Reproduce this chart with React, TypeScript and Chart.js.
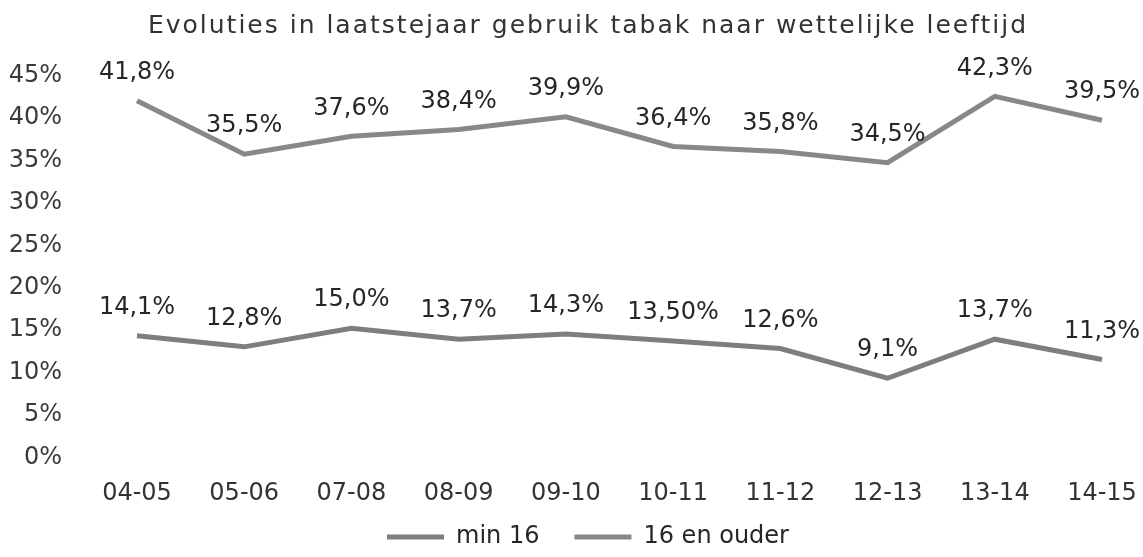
import React, { useEffect, useRef } from "react";
import { Chart, registerables } from "chart.js";

Chart.register(...registerables);

const categories = ["04-05", "05-06", "07-08", "08-09", "09-10", "10-11", "11-12", "12-13", "13-14", "14-15"];
const min16Values = [14.1, 12.8, 15.0, 13.7, 14.3, 13.5, 12.6, 9.1, 13.7, 11.3];
const min16Labels = ["14,1%", "12,8%", "15,0%", "13,7%", "14,3%", "13,50%", "12,6%", "9,1%", "13,7%", "11,3%"];
const olderValues = [41.8, 35.5, 37.6, 38.4, 39.9, 36.4, 35.8, 34.5, 42.3, 39.5];
const olderLabels = ["41,8%", "35,5%", "37,6%", "38,4%", "39,9%", "36,4%", "35,8%", "34,5%", "42,3%", "39,5%"];
const seriesNames = ["min 16", "16 en ouder"];
const titleText = "Evoluties in laatstejaar gebruik tabak naar wettelijke leeftijd";

const FONT = '"DejaVu Sans", Verdana, sans-serif';
const PAD_L = 8;
const PAD_R = 41;
const PAD_T = 73.5;
const BOTTOM_SPACE = 101.5;
const CENTER_X = 588;
const LEGEND_FONT = 24;
const LEGEND_PAD = 35;

const valueLabelPlugin = {
  id: "valueLabels",
  afterDatasetsDraw(chart: any) {
    const ctx = chart.ctx;
    const texts = [min16Labels, olderLabels];
    ctx.save();
    ctx.font = `24px ${FONT}`;
    ctx.fillStyle = "#262626";
    ctx.textAlign = "center";
    ctx.textBaseline = "middle";
    chart.data.datasets.forEach((_ds: any, di: number) => {
      const meta = chart.getDatasetMeta(di);
      meta.data.forEach((pt: any, i: number) => {
        ctx.fillText(texts[di][i], pt.x, pt.y - 28);
      });
    });
    ctx.restore();
  },
};

const titlePlugin = {
  id: "spacedTitle",
  afterDraw(chart: any) {
    const ctx = chart.ctx;
    ctx.save();
    ctx.font = `25px ${FONT}`;
    (ctx as any).letterSpacing = "2px";
    ctx.fillStyle = "#333333";
    ctx.textAlign = "center";
    ctx.textBaseline = "alphabetic";
    ctx.fillText(titleText, CENTER_X, 33);
    ctx.restore();
  },
};

const legendShiftPlugin = {
  id: "legendShift",
  afterLayout(chart: any) {
    const lg = chart.legend;
    if (!lg) return;
    const shift = CENTER_X - (lg.left + lg.right) / 2;
    lg.left += shift;
    lg.right += shift;
    lg.top += 2;
    lg.bottom += 2;
  },
};

const noLabelClip = (scale: any) => {
  scale._computeLabelArea = () => undefined;
};

export default function App() {
  const canvasRef = useRef<HTMLCanvasElement | null>(null);

  useEffect(() => {
    if (!canvasRef.current) return;
    const chart = new Chart(canvasRef.current, {
      type: "line",
      data: {
        labels: categories,
        datasets: [
          {
            label: seriesNames[0],
            data: min16Values,
            borderColor: "#7e7e7e",
            backgroundColor: "#7e7e7e",
            borderWidth: 5,
            pointRadius: 0,
            tension: 0,
          },
          {
            label: seriesNames[1],
            data: olderValues,
            borderColor: "#888888",
            backgroundColor: "#888888",
            borderWidth: 5,
            pointRadius: 0,
            tension: 0,
          },
        ],
      },
      options: {
        animation: false,
        responsive: true,
        maintainAspectRatio: false,
        layout: { padding: { top: PAD_T, left: PAD_L, right: PAD_R, bottom: 0 } },
        plugins: {
          title: { display: false },
          tooltip: { enabled: false },
          legend: {
            display: true,
            position: "bottom",
            labels: {
              usePointStyle: true,
              pointStyle: "line",
              pointStyleWidth: 57,
              padding: LEGEND_PAD,
              color: "#262626",
              font: { family: FONT, size: LEGEND_FONT },
            },
          },
        },
        scales: {
          x: {
            offset: false,
            grid: { display: false },
            border: { display: false },
            ticks: { color: "#333333", padding: 15.5, font: { family: FONT, size: 24 } },
            afterFit(scale: any) {
              scale.height = BOTTOM_SPACE - (LEGEND_FONT + LEGEND_PAD + 10);
              scale.paddingLeft = 0;
              scale.paddingRight = 0;
              noLabelClip(scale);
            },
          },
          y: {
            min: 0,
            max: 45,
            grid: { display: false },
            border: { display: false },
            ticks: {
              stepSize: 5,
              color: "#3a3a3a",
              padding: 67,
              labelOffset: 2,
              font: { family: FONT, size: 24 },
              callback: (v: any) => `${v}%`,
            },
            afterFit(scale: any) {
              scale.width = 129;
              scale.paddingTop = 0;
              scale.paddingBottom = 0;
              noLabelClip(scale);
            },
          },
        },
      } as any,
      plugins: [valueLabelPlugin, titlePlugin, legendShiftPlugin],
    });
    return () => chart.destroy();
  }, []);

  return (
    <div style={{ position: "absolute", left: 0, top: 0, width: 1143, height: 557, background: "#ffffff" }}>
      <canvas ref={canvasRef} />
    </div>
  );
}
